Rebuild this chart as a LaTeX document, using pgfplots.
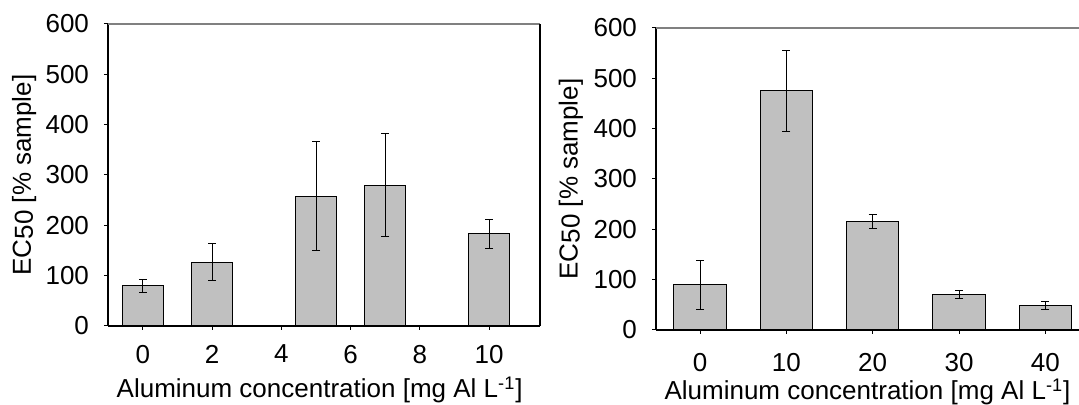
\documentclass[border=0pt]{standalone}
\usepackage{fontspec}
\setmainfont{Liberation Sans}
\usepackage{pgfplots}
\pgfplotsset{compat=1.18}
\definecolor{barfill}{RGB}{192,192,192}
\begin{document}
\begin{tikzpicture}
\useasboundingbox (0pt,0pt) rectangle (539.5pt,202.5pt);
\pgfplotsset{
  ecpanel/.style={
    scale only axis,
    anchor=south west,
    ymin=0, ymax=600,
    ytick={0,100,...,600},
    axis lines*=left,
    axis line style={black, line width=0.6pt},
    tick align=outside,
    major tick length=2pt,
    tick style={black, line width=0.5pt},
    font=\fontsize{13}{15}\selectfont,
    /pgf/number format/assume math mode=true,
    yticklabel style={xshift=-4pt},
    xticklabel style={yshift=-4pt},
    ylabel={EC\raisebox{-1pt}{50} [\% sample]},
    xlabel={Aluminum concentration [mg Al L\textsuperscript{-1}]},
    clip=false,
  },
  ecbar/.style={
    ybar, fill=barfill, draw=black, line width=0.5pt,
    error bars/.cd, y dir=both, y explicit,
    error bar style={black, line width=0.5pt},
    error mark options={rotate=90, mark size=2pt, black, line width=0.5pt},
  },
}
% left panel
\begin{axis}[ecpanel,
  at={(54pt,39.5pt)}, width=216pt, height=151pt,
  xmin=-1.01, xmax=11.47,
  xtick={0,2,...,10},
  bar width=1.19,
  ylabel style={at={(axis description cs:-0.194,0.5)}, anchor=center},
  xlabel style={at={(axis description cs:0.49,0)}, anchor=base, yshift=-36pt},
]
\addplot[ecbar] coordinates {
  (0,80)   += (0,12)  -= (0,14)
  (2,127)  += (0,36)  -= (0,37)
  (5,258)  += (0,108) -= (0,108)
  (7,280)  += (0,102) -= (0,102)
  (10,183) += (0,28)  -= (0,29)
};
\draw[gray, line width=0.6pt] (rel axis cs:0,1) -- (rel axis cs:1,1);
\draw[black, line width=0.6pt] (rel axis cs:1,0) -- (rel axis cs:1,1);
\end{axis}
% right panel
\begin{axis}[ecpanel,
  at={(328pt,37.5pt)}, width=211.5pt, height=151pt,
  xmin=-5.1, xmax=43.9,
  xtick={0,10,...,40},
  bar width=6.05,
  ylabel style={at={(axis description cs:-0.201,0.5)}, anchor=center},
  xticklabel style={yshift=-2pt},
  xlabel style={at={(axis description cs:0.5,0)}, anchor=base, yshift=-35pt},
]
\addplot[ecbar] coordinates {
  (0,90)   += (0,49) -= (0,50)
  (10,475) += (0,80) -= (0,80)
  (20,216) += (0,13) -= (0,14)
  (30,70)  += (0,8)  -= (0,8)
  (40,48)  += (0,8)  -= (0,8)
};
\draw[gray, line width=0.6pt] (rel axis cs:0,1) -- (rel axis cs:1,1);
\end{axis}
\end{tikzpicture}
\end{document}
